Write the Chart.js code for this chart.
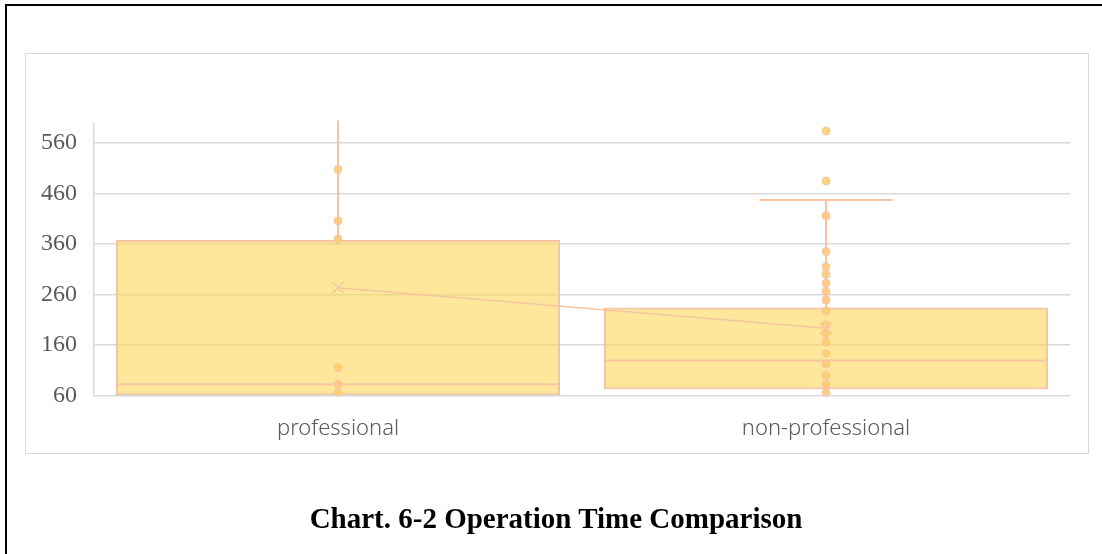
<!DOCTYPE html>
<html><head><meta charset="utf-8">
<script src="https://cdn.jsdelivr.net/npm/chart.js@4.4.1/dist/chart.umd.min.js"></script>
<style>
html,body{margin:0;padding:0;background:#fff;}
body{width:1102px;height:554px;position:relative;overflow:hidden;}
#frame{position:absolute;left:5px;top:4px;width:1200px;height:700px;border-top:2px solid #000;border-left:2px solid #000;}
#box{position:absolute;left:25px;top:53px;width:1062px;height:399px;border:1px solid #d9d9d9;}
#wrap{position:absolute;left:0;top:0;width:1102px;height:554px;}
#title{position:absolute;left:0;width:1112px;top:504px;text-align:center;font:bold 29px/29px "Liberation Serif","Times New Roman",serif;color:#000;white-space:nowrap;}
</style></head>
<body>
<div id="frame"></div>
<div id="box"></div>
<div id="wrap"><canvas id="c" width="1102" height="554"></canvas></div>
<div id="title">Chart. 6-2 Operation Time Comparison</div>
<script>
// ---- data ----
const categories = ['professional', 'non-professional'];
const q1 = [60, 72];
const q3 = [368, 234];
const medians = [82, 129];
const means = [273.5, 193];
const whiskerLow = [57, 57];
const whiskerHigh = [605, 447.5];
const professionalPoints = [508, 406, 370, 115, 82, 65];
const nonProfessionalPoints = [584, 485, 416, 345, 315, 300, 282, 266, 249, 227, 200, 182, 165, 143, 122, 100, 82, 65];
const yTicks = [60, 160, 260, 360, 460, 560];
const yMin = 60, yMax = 598;

// ---- styles ----
const peach = '#F6C4A2';
const boxFill = 'rgba(253,214,87,0.6)';
const pointFill = 'rgba(255,206,105,0.9)';
const gridColor = '#d9d9d9';

const boxParts = {
  id: 'boxParts',
  afterDatasetsDraw(chart) {
    const ctx = chart.ctx, xs = chart.scales.x, ys = chart.scales.y;
    const meta = chart.getDatasetMeta(0);
    ctx.save();
    ctx.strokeStyle = peach;
    ctx.lineCap = 'butt';
    const seg = (x1, y1, x2, y2, w) => { ctx.lineWidth = w; ctx.beginPath(); ctx.moveTo(x1, y1); ctx.lineTo(x2, y2); ctx.stroke(); };
    categories.forEach((c, i) => {
      const cx = xs.getPixelForValue(i);
      const w = meta.data[i].width;
      const yq1 = ys.getPixelForValue(q1[i]);
      const yq3 = ys.getPixelForValue(q3[i]);
      const yhi = ys.getPixelForValue(whiskerHigh[i]);
      const ylo = ys.getPixelForValue(whiskerLow[i]);
      seg(cx, yq3, cx, yhi, 2);
      seg(cx, yq1, cx, ylo, 2);
      if (whiskerHigh[i] <= yMax) seg(cx - w * 0.15, yhi, cx + w * 0.15, yhi, 2);
      if (whiskerLow[i] >= yMin) seg(cx - w * 0.15, ylo, cx + w * 0.15, ylo, 2);
      const ym = ys.getPixelForValue(medians[i]);
      seg(cx - w / 2, ym, cx + w / 2, ym, 2);
    });
    ctx.restore();
  }
};

new Chart(document.getElementById('c'), {
  type: 'bar',
  data: {
    labels: categories,
    datasets: [
      {
        type: 'bar',
        data: categories.map((c, i) => [q1[i], q3[i]]),
        backgroundColor: boxFill,
        borderColor: peach,
        borderWidth: 2,
        borderSkipped: false,
        barPercentage: 0.91,
        categoryPercentage: 1,
        order: 3
      },
      {
        type: 'line',
        data: means,
        borderColor: peach,
        borderWidth: 1.5,
        pointStyle: 'crossRot',
        pointRadius: 8,
        pointBorderColor: peach,
        pointBorderWidth: 1.5,
        pointBackgroundColor: 'rgba(0,0,0,0)',
        order: 1
      },
      {
        type: 'line',
        data: professionalPoints.map(v => ({ x: categories[0], y: v })),
        showLine: false,
        pointRadius: 4,
        pointBackgroundColor: pointFill,
        pointBorderColor: peach,
        pointBorderWidth: 1,
        order: 2
      },
      {
        type: 'line',
        data: nonProfessionalPoints.map(v => ({ x: categories[1], y: v })),
        showLine: false,
        pointRadius: 4,
        pointBackgroundColor: pointFill,
        pointBorderColor: peach,
        pointBorderWidth: 1,
        order: 2
      }
    ]
  },
  options: {
    responsive: false,
    animation: false,
    events: [],
    devicePixelRatio: 1,
    layout: { padding: { left: 34, top: 124, right: 32, bottom: 98.7 } },
    plugins: { legend: { display: false }, tooltip: { enabled: false }, title: { display: false } },
    scales: {
      x: {
        type: 'category',
        offset: true,
        grid: { display: false, drawTicks: false },
        border: { display: false },
        ticks: { color: '#595959', padding: 20, font: { family: '"Noto Sans", sans-serif', size: 22, weight: 300 } },
        afterFit(s) { s.height = 60; }
      },
      y: {
        min: yMin,
        max: yMax,
        grid: { color: gridColor, lineWidth: 1.5, drawTicks: false },
        border: { display: true, color: gridColor, width: 1.5 },
        ticks: { color: '#595959', padding: 17, font: { family: '"Liberation Serif", serif', size: 24 } },
        afterBuildTicks(s) { s.ticks = yTicks.map(v => ({ value: v })); },
        afterFit(s) { s.width = 60; }
      }
    }
  },
  plugins: [boxParts]
});
</script>
</body></html>
